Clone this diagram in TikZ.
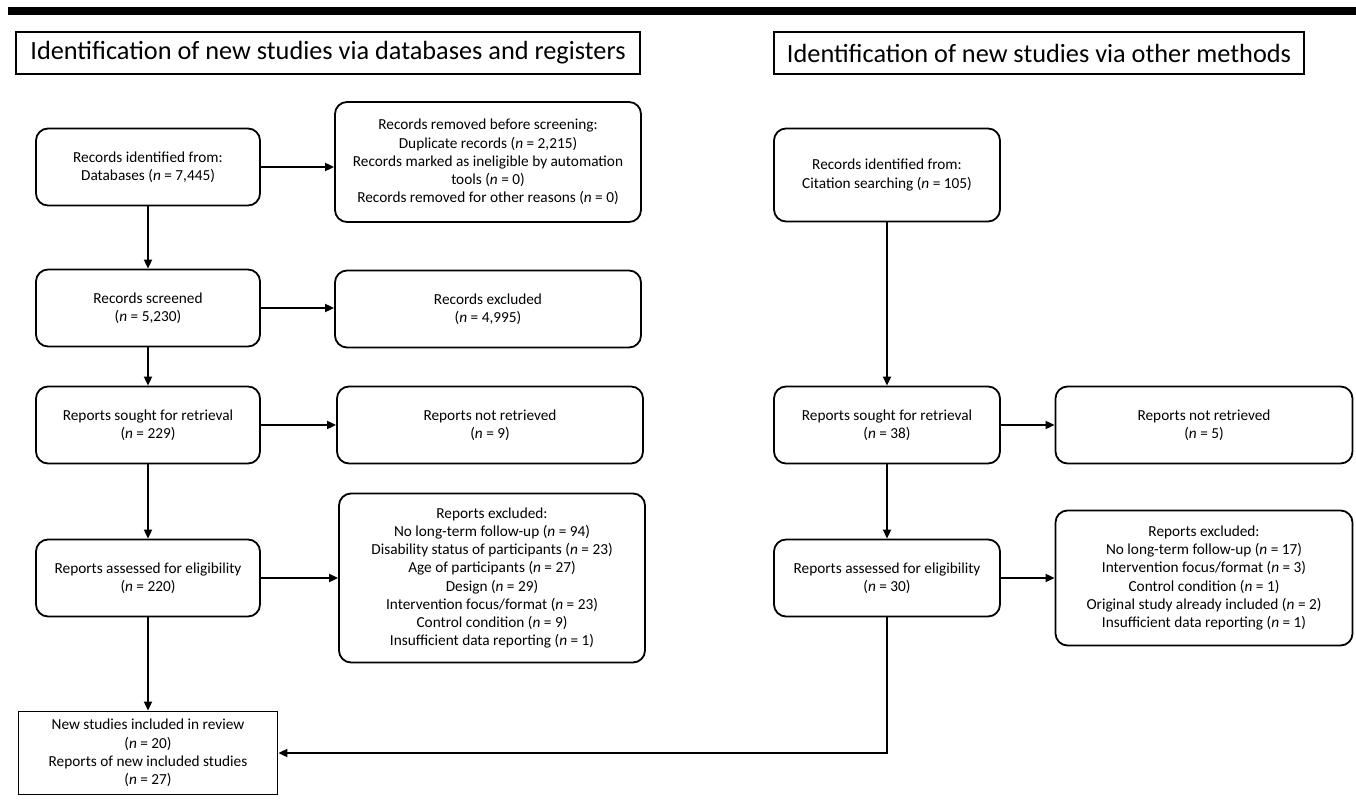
\documentclass[tikz,border=0pt]{standalone}
\usepackage{fontspec}
\setmainfont{Carlito}
\usetikzlibrary{arrows.meta}

\begin{document}
\begin{tikzpicture}[x=1pt,y=-1pt,
  box/.style={draw,line width=1.8pt,rounded corners=12pt,align=center,inner sep=0pt,
    minimum width=224pt,minimum height=77pt,font=\fontsize{15.3}{18.2}\selectfont},
  side/.style={box,minimum width=306pt},
  titlebox/.style={draw,line width=1.5pt,inner sep=0pt,minimum height=42pt,
    font=\fontsize{26.3}{28}\selectfont},
  arr/.style={line width=1.8pt,-{Triangle[length=9pt,width=8pt]}}]
\useasboundingbox (0,0) rectangle (1356,802);
\fill (8,7) rectangle (1356,15);
\node[titlebox,minimum width=624pt] (dbtitle) at (328,53) {Identification of new studies via databases and registers};
\node[titlebox,minimum width=530pt] (ottitle) at (1039,53) {Identification of new studies via other methods};
\node[box] (dbid) at (148,167) {Records identified from:\\Databases (\textit{n} = 7,445)};
\node[side,minimum height=120pt] (dbrem) at (488,162) {Records removed before screening:\\Duplicate records (\textit{n} = 2,215)\\Records marked as ineligible by automation\\tools (\textit{n} = 0)\\Records removed for other reasons (\textit{n} = 0)};
\node[box] (dbscr) at (148,308) {Records screened\\(\textit{n} = 5,230)};
\node[side] (dbexc) at (488,309) {Records excluded\\(\textit{n} = 4,995)};
\node[box] (dbsought) at (148,425) {Reports sought for retrieval\\(\textit{n} = 229)};
\node[side] (dbnotret) at (490,425) {Reports not retrieved\\(\textit{n} = 9)};
\node[box] (dbass) at (148,578) {Reports assessed for eligibility\\(\textit{n} = 220)};
\node[side,minimum height=169pt] (dbrepexc) at (492,578) {Reports excluded:\\No long-term follow-up (\textit{n} = 94)\\Disability status of participants (\textit{n} = 23)\\Age of participants (\textit{n} = 27)\\Design (\textit{n} = 29)\\Intervention focus/format (\textit{n} = 23)\\Control condition (\textit{n} = 9)\\Insufficient data reporting (\textit{n} = 1)};
\node[box,sharp corners,minimum width=259pt,minimum height=83pt] (incl) at (148,753) {New studies included in review\\(\textit{n} = 20)\\Reports of new included studies\\(\textit{n} = 27)};
\node[box,minimum width=226pt,minimum height=93pt] (otid) at (887,175) {Records identified from:\\Citation searching (\textit{n} = 105)};
\node[box,minimum width=226pt] (otsought) at (887,425) {Reports sought for retrieval\\(\textit{n} = 38)};
\node[box,minimum width=297pt] (otnotret) at (1204,425) {Reports not retrieved\\(\textit{n} = 5)};
\node[box,minimum width=226pt] (otass) at (887,578) {Reports assessed for eligibility\\(\textit{n} = 30)};
\node[box,minimum width=297pt,minimum height=135pt] (otrepexc) at (1204,578) {Reports excluded:\\No long-term follow-up (\textit{n} = 17)\\Intervention focus/format (\textit{n} = 3)\\Control condition (\textit{n} = 1)\\Original study already included (\textit{n} = 2)\\Insufficient data reporting (\textit{n} = 1)};
\draw[arr] (dbid) -- (dbscr);
\draw[arr] (dbscr) -- (dbsought);
\draw[arr] (dbsought) -- (dbass);
\draw[arr] (dbass) -- (incl);
\draw[arr] (dbid.east) -- (dbid.east -| dbrem.west);
\draw[arr] (dbscr.east) -- (dbscr.east -| dbexc.west);
\draw[arr] (dbsought.east) -- (dbsought.east -| dbnotret.west);
\draw[arr] (dbass.east) -- (dbass.east -| dbrepexc.west);
\draw[arr] (otid) -- (otsought);
\draw[arr] (otsought) -- (otass);
\draw[arr] (otsought.east) -- (otnotret.west);
\draw[arr] (otass.east) -- (otass.east -| otrepexc.west);
\draw[arr] (otass.south) |- (incl.east);
\end{tikzpicture}
\end{document}
